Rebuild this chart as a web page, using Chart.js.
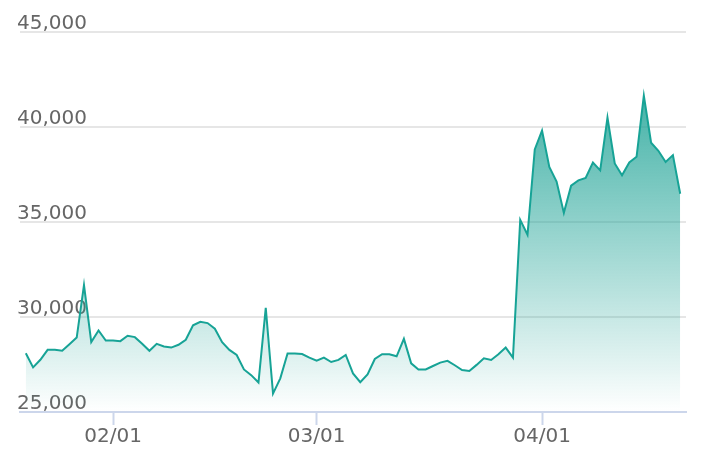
<!DOCTYPE html>
<html>
<head>
<meta charset="utf-8">
<script src="https://cdn.jsdelivr.net/npm/chart.js@4/dist/chart.umd.min.js"></script>
<style>
  html, body { margin: 0; padding: 0; background: #fff; }
  #wrap { width: 702px; height: 460px; }
</style>
</head>
<body>
<div id="wrap"><canvas id="priceChart"></canvas></div>
<script>
  // daily values, 01/20 .. 04/19
  const startDate = '2023-01-20';
  const values = [
    28090, 27350, 27750, 28270, 28270, 28220, 28570, 28920, 31680, 28680,
    29290, 28760, 28760, 28730, 29010, 28940, 28590, 28220, 28590, 28450,
    28390, 28540, 28800, 29560, 29750, 29680, 29380, 28670, 28270, 28000,
    27240, 26940, 26550, 30480, 25970, 26770, 28080, 28080, 28050, 27860,
    27700, 27860, 27630, 27740, 28000, 27030, 26570, 26980, 27790, 28040,
    28040, 27930, 28850, 27560, 27240, 27240, 27420, 27600, 27690, 27460,
    27210, 27160, 27480, 27830, 27740, 28040, 28390, 27860, 35110, 34330,
    38820, 39810, 37900, 37130, 35480, 36910, 37190, 37320, 38130, 37720,
    40500, 38080, 37460, 38130, 38430, 41650, 39170, 38750, 38160, 38520,
    36490
  ];
  const yTicks = [25000, 30000, 35000, 40000, 45000];

  const dates = values.map((v, i) => {
    const d = new Date(startDate + 'T00:00:00Z');
    d.setUTCDate(d.getUTCDate() + i);
    const mm = String(d.getUTCMonth() + 1).padStart(2, '0');
    const dd = String(d.getUTCDate()).padStart(2, '0');
    return mm + '/' + dd;
  });

  const teal = '#17a396';
  const labelFont = { family: 'DejaVu Sans', size: 20 };

  function areaFill(context) {
    const area = context.chart.chartArea;
    if (!area) return 'rgba(31,163,150,0.3)';
    const g = context.chart.ctx.createLinearGradient(0, area.top, 0, area.bottom);
    g.addColorStop(0, 'rgba(31,163,150,1)');
    g.addColorStop(1, 'rgba(31,163,150,0)');
    return g;
  }

  new Chart(document.getElementById('priceChart'), {
    type: 'line',
    data: {
      datasets: [{
        data: values.map((v, i) => ({ x: i, y: v })),
        borderColor: teal,
        borderWidth: 2,
        backgroundColor: areaFill,
        fill: 'start',
        pointRadius: 0,
        tension: 0
      }]
    },
    options: {
      responsive: true,
      maintainAspectRatio: false,
      animation: false,
      layout: { padding: { left: 20, right: 16, top: 32, bottom: 11 } },
      plugins: { legend: { display: false }, tooltip: { enabled: false } },
      scales: {
        x: {
          type: 'linear',
          min: -0.8,
          max: values.length - 0.2,
          afterBuildTicks: scale => {
            scale.ticks = dates
              .map((d, i) => ({ value: i, label: d }))
              .filter(t => t.label.endsWith('/01'))
              .map(t => ({ value: t.value }));
          },
          ticks: {
            color: '#666',
            font: labelFont,
            padding: 0,
            maxRotation: 0,
            autoSkip: false,
            callback: value => dates[value]
          },
          grid: {
            drawOnChartArea: false,
            drawTicks: true,
            tickLength: 13,
            tickWidth: 2,
            color: '#ccd6eb'
          },
          border: { display: true, color: '#ccd6eb', width: 2 }
        },
        y: {
          min: 25000,
          max: 45000,
          afterBuildTicks: scale => {
            scale.ticks = yTicks.map(v => ({ value: v }));
          },
          ticks: {
            mirror: true,
            padding: -1,
            labelOffset: -8,
            color: '#666',
            font: labelFont,
            callback: value => value.toLocaleString('en-US')
          },
          grid: { drawTicks: false, color: '#e6e6e6', lineWidth: 2 },
          border: { display: false }
        }
      }
    }
  });
</script>
</body>
</html>
